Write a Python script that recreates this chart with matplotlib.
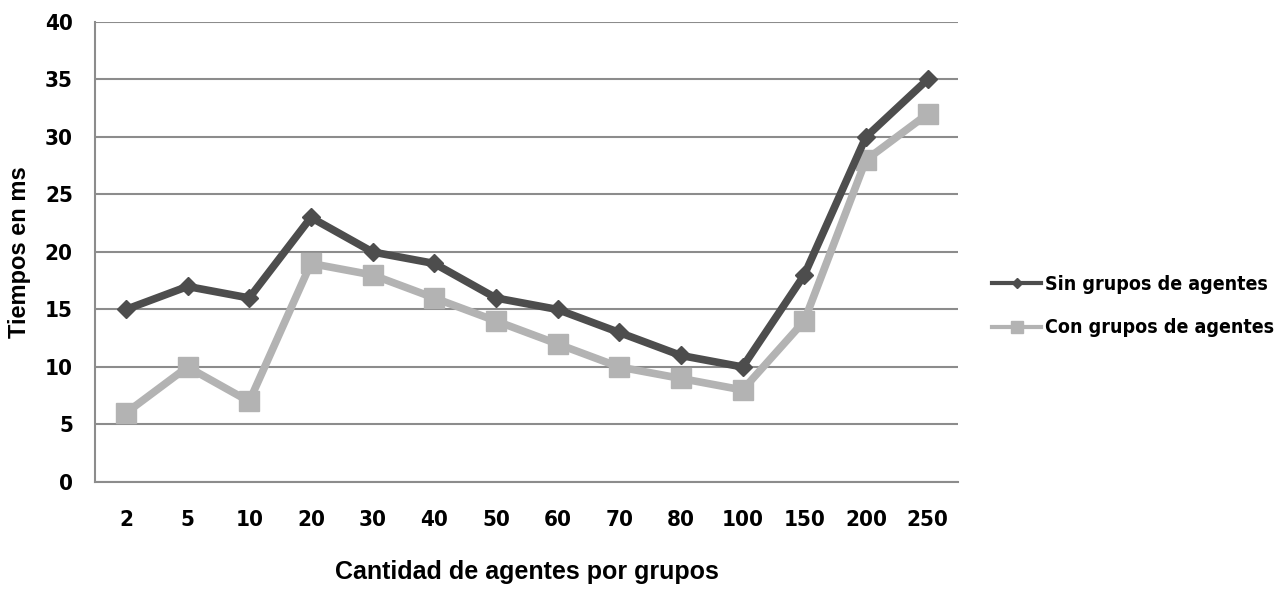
import matplotlib
matplotlib.use('Agg')
import matplotlib.pyplot as plt
from matplotlib import font_manager
from matplotlib.font_manager import FontProperties

# Data
categorias = ['2', '5', '10', '20', '30', '40', '50', '60', '70', '80', '100', '150', '200', '250']
sin_grupos = [15, 17, 16, 23, 20, 19, 16, 15, 13, 11, 10, 18, 30, 35]
con_grupos = [6, 10, 7, 19, 18, 16, 14, 12, 10, 9, 8, 14, 28, 32]

# look for a narrow / condensed bold face, otherwise plain bold sans
narrow = None
for f in font_manager.fontManager.ttflist:
    fn = f.fname.lower()
    if ('narrow' in fn or 'condensed' in fn) and 'bold' in fn and 'oblique' not in fn and 'italic' not in fn:
        narrow = f.fname
        break

def fp(size):
    if narrow:
        return FontProperties(fname=narrow, size=size)
    return FontProperties(family=['Liberation Sans', 'DejaVu Sans'], weight='bold', size=size)

plt.rcParams['font.family'] = ['Liberation Sans', 'DejaVu Sans']
plt.rcParams['font.weight'] = 'bold'

fig = plt.figure(figsize=(12.81, 5.89), dpi=100)
ax = fig.add_axes([0.0742, 0.1817, 0.674, 0.781])

x = list(range(len(categorias)))
ax.plot(x, con_grupos, color='#b3b3b3', linewidth=5.5, marker='s', markersize=15,
        label='Con grupos de agentes', zorder=3)
ax.plot(x, sin_grupos, color='#4d4d4d', linewidth=5.5, marker='D', markersize=9,
        label='Sin grupos de agentes', zorder=4)

ax.set_xlim(-0.5, len(categorias) - 0.5)
ax.set_ylim(0, 40)
ax.set_yticks(range(0, 41, 5))
ax.set_xticks(x)
ax.set_xticklabels(categorias)
ax.yaxis.grid(True, color='#8c8c8c', linewidth=1.5)
ax.set_axisbelow(True)
for s in ['top', 'right']:
    ax.spines[s].set_visible(False)
ax.spines['left'].set_color('#8c8c8c')
ax.spines['bottom'].set_color('#8c8c8c')
ax.spines['left'].set_linewidth(1.5)
ax.spines['bottom'].set_linewidth(1.5)
ax.tick_params(length=0)
ax.tick_params(axis='x', pad=20)
ax.tick_params(axis='y', pad=16)
for lab in ax.get_xticklabels() + ax.get_yticklabels():
    lab.set_fontproperties(fp(16))

ax.set_xlabel('Cantidad de agentes por grupos', fontsize=18, fontweight='bold', labelpad=22)
ax.set_ylabel('Tiempos en ms', fontsize=17, fontweight='bold', labelpad=10)

handles, labels = ax.get_legend_handles_labels()
leg = fig.legend(handles[::-1], labels[::-1], loc='center left',
                 bbox_to_anchor=(0.767, 0.48), frameon=False, prop=fp(14),
                 handlelength=2.5, handletextpad=0.2, labelspacing=1.25,
                 markerscale=0.6, borderpad=0)
for ln in leg.get_lines():
    ln.set_linewidth(3)

fig.savefig('out.png', dpi=100)
